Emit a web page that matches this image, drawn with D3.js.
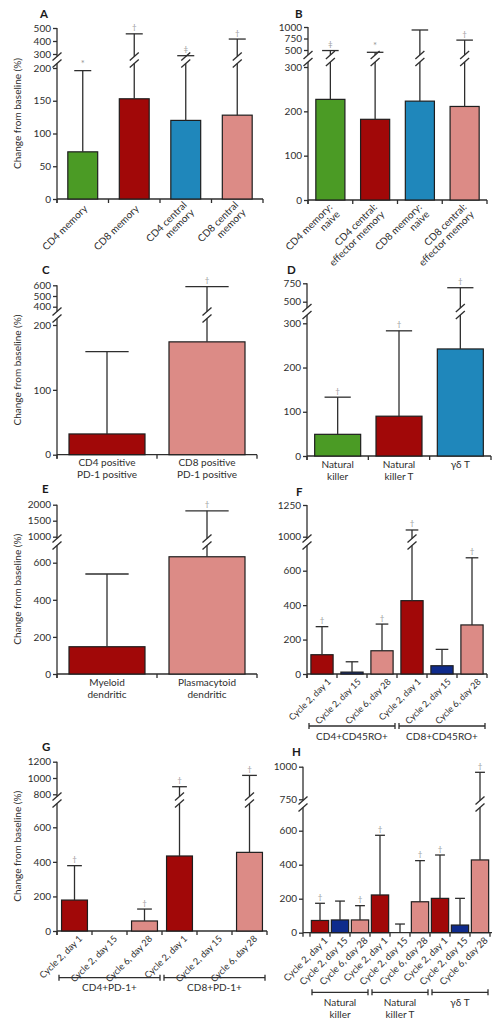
<!DOCTYPE html>
<html><head><meta charset="utf-8">
<script src="https://cdn.jsdelivr.net/npm/d3@7"></script>
<style>
body{margin:0;background:#fff}
svg{display:block}
text{font-family:Lato,"Open Sans",sans-serif}
</style>
</head><body>
<svg id="c" width="499" height="1027"></svg>
<script>
// ---------------- data ----------------
const catsA = ["CD4 memory", "CD8 memory", "CD4 central\nmemory", "CD8 central\nmemory"];
const meanA = [72, 153, 120, 128];
const errA = [196, 455, 287, 415];
const sigA = ["*", "†", "‡", "†"];
const lowTicksA = [0, 50, 100, 150, 200];
const highTicksA = [300, 400, 500];

const catsB = ["CD4 memory:\nnaive", "CD4 central:\neffector memory", "CD8 memory:\nnaive", "CD8 central:\neffector memory"];
const meanB = [227, 182, 223, 211];
const errB = [488, 450, 935, 715];
const sigB = ["‡", "*", "", "†"];
const lowTicksB = [0, 100, 200, 300];
const highTicksB = [500, 750, 1000];

const catsC = ["CD4 positive\nPD-1 positive", "CD8 positive\nPD-1 positive"];
const meanC = [32, 174];
const errC = [159, 587];
const sigC = ["", "†"];
const lowTicksC = [0, 100, 200];
const highTicksC = [400, 500, 600];

const catsD = ["Natural\nkiller", "Natural\nkiller T", "γδ T"];
const meanD = [49, 90, 242];
const errD = [133, 283, 690];
const sigD = ["†", "†", "†"];
const lowTicksD = [0, 100, 200, 300];
const highTicksD = [500, 750];

const catsE = ["Myeloid\ndendritic", "Plasmacytoid\ndendritic"];
const meanE = [147, 632];
const errE = [539, 1810];
const sigE = ["", "†"];
const lowTicksE = [0, 200, 400, 600];
const highTicksE = [1000, 1500, 2000];

const cycleCats = ["Cycle 2, day 1", "Cycle 2, day 15", "Cycle 6, day 28"];

const catsF = [...cycleCats, ...cycleCats];
const groupsF = ["CD4+CD45RO+", "CD8+CD45RO+"];
const meanF = [112, 11, 135, 426, 48, 285];
const errF = [275, 71, 290, 1053, 143, 675];
const sigF = ["†", "", "†", "†", "", "†"];
const lowTicksF = [0, 200, 400, 600];
const highTicksF = [1000, 1250];

const catsG = [...cycleCats, ...cycleCats];
const groupsG = ["CD4+PD-1+", "CD8+PD-1+"];
const meanG = [179, null, 58, 434, null, 455];
const errG = [378, null, 127, 893, null, 1032];
const sigG = ["†", "", "†", "†", "", "†"];
const lowTicksG = [0, 200, 400, 600];
const highTicksG = [800, 1000, 1200];

const catsH = [...cycleCats, ...cycleCats, ...cycleCats];
const groupsH = ["Natural\nkiller", "Natural\nkiller T", "γδ T"];
const meanH = [72, 75, 75, 222, 0, 182, 202, 45, 428];
const errH = [173, 186, 159, 573, 51, 424, 457, 202, 957];
const sigH = ["†", "", "†", "†", "", "†", "†", "", "†"];
const lowTicksH = [0, 200, 400, 600];
const highTicksH = [750, 1000];

// ---------------- styling / layout ----------------
const palette = {green: "#4b9b25", red: "#a10808", blue: "#1f87bb", pink: "#dc8b86", navy: "#0f2b8c"};
const ink = "#2e2e2e";
const cyc = ["red", "navy", "pink"];

const panels = [
  {letter: "A", lx: 40, ly: 18, cats: catsA, mean: meanA, err: errA, sig: sigA, lowTicks: lowTicksA, highTicks: highTicksA,
   colors: ["green", "red", "blue", "pink"], x0: 57, x1: 263, y0: 199, yLowTop: 68, yHiBot: 54, yHiTop: 28, breakY: 60,
   barFrac: 0.58, rot: true, ldx: 3, ldy: 8, lfs: 10, title: true},
  {letter: "B", lx: 295, ly: 18, cats: catsB, mean: meanB, err: errB, sig: sigB, lowTicks: lowTicksB, highTicks: highTicksB,
   colors: ["green", "red", "blue", "pink"], x0: 308, x1: 487, y0: 200, yLowTop: 67, yHiBot: 50, yHiTop: 27, breakY: 58.5,
   barFrac: 0.65, rot: true, ldx: 4, ldy: 9, lfs: 10},
  {letter: "C", lx: 42, ly: 274, cats: catsC, mean: meanC, err: errC, sig: sigC, lowTicks: lowTicksC, highTicks: highTicksC,
   colors: ["red", "pink"], x0: 57, x1: 257, y0: 454.7, yLowTop: 325, yHiBot: 306.7, yHiTop: 285.3, breakY: 315,
   barFrac: 0.76, rot: false, title: true},
  {letter: "D", lx: 287, ly: 273.5, cats: catsD, mean: meanD, err: errD, sig: sigD, lowTicks: lowTicksD, highTicks: highTicksD,
   colors: ["green", "red", "blue"], x0: 307, x1: 491, y0: 456, yLowTop: 323.3, yHiBot: 301.7, yHiTop: 283.3, breakY: 311.5,
   barFrac: 0.75, rot: false},
  {letter: "E", lx: 42, ly: 493, cats: catsE, mean: meanE, err: errE, sig: sigE, lowTicks: lowTicksE, highTicks: highTicksE,
   colors: ["red", "pink"], x0: 57, x1: 257, y0: 674, yLowTop: 562.7, yHiBot: 536.7, yHiTop: 504.7, breakY: 542,
   barFrac: 0.76, rot: false, title: true},
  {letter: "F", lx: 296, ly: 496, cats: catsF, mean: meanF, err: errF, sig: sigF, lowTicks: lowTicksF, highTicks: highTicksF,
   colors: [...cyc, ...cyc], x0: 307, x1: 487, y0: 674, yLowTop: 570.7, yHiBot: 536.7, yHiTop: 505, breakY: 542,
   barFrac: 0.74, rot: true, ldx: 7, ldy: 6, lfs: 9, groups: groupsF, bracketY: 726},
  {letter: "G", lx: 42, ly: 750.5, cats: catsG, mean: meanG, err: errG, sig: sigG, lowTicks: lowTicksG, highTicks: highTicksG,
   colors: [...cyc, ...cyc], x0: 57, x1: 267, y0: 931, yLowTop: 827.3, yHiBot: 794.3, yHiTop: 761.7, breakY: 800,
   barFrac: 0.74, rot: true, ldx: 6, ldy: 6, lfs: 9.2, title: true, groups: groupsG, bracketY: 977.7},
  {letter: "H", lx: 292, ly: 755.5, cats: catsH, mean: meanH, err: errH, sig: sigH, lowTicks: lowTicksH, highTicks: highTicksH,
   colors: [...cyc, ...cyc, ...cyc], x0: 303, x1: 492, bandRange: [310, 490], y0: 932.7, yLowTop: 830.7, yHiBot: 799.3, yHiTop: 766.7, breakY: 804,
   barFrac: 0.865, rot: true, ldx: 6, ldy: 6, lfs: 9.5, groups: groupsH, bracketY: 992.3}
];

const svg = d3.select("#c");
const SW = 1.3;

function slashes(g, cx, cy) {
  [-3.5, 3.5].forEach(o => {
    g.append("line").attr("x1", cx - 4.5).attr("y1", cy + o + 4).attr("x2", cx + 4.5).attr("y2", cy + o - 4)
      .attr("stroke", ink).attr("stroke-width", SW);
  });
}
function vline(g, x, ya, yb) {
  g.append("line").attr("x1", x).attr("x2", x).attr("y1", ya).attr("y2", yb).attr("stroke", ink).attr("stroke-width", SW);
}
function hline(g, xa, xb, y) {
  g.append("line").attr("x1", xa).attr("x2", xb).attr("y1", y).attr("y2", y).attr("stroke", ink).attr("stroke-width", SW);
}

function drawPanel(p) {
  const g = svg.append("g");
  const n = p.cats.length;
  const [r0, r1] = p.bandRange || [p.x0, p.x1];
  const step = (r1 - r0) / n;
  const pad = 1 - p.barFrac;
  const x = d3.scaleBand().domain(d3.range(n)).range([r0, r1]).paddingInner(pad).paddingOuter(pad / 2);
  const bw = x.bandwidth();
  const yLow = d3.scaleLinear().domain([0, d3.max(p.lowTicks)]).range([p.y0, p.yLowTop]);
  const yHigh = d3.scaleLinear().domain([d3.min(p.highTicks), d3.max(p.highTicks)]).range([p.yHiBot, p.yHiTop]);
  const y = v => (yLow(v) >= p.breakY ? yLow(v) : yHigh(v));

  // y axes
  [[yLow, p.lowTicks], [yHigh, p.highTicks]].forEach(([sc, tv]) => {
    const ax = g.append("g").attr("transform", `translate(${p.x0},0)`)
      .call(d3.axisLeft(sc).tickValues(tv).tickSize(4).tickPadding(2).tickFormat(d3.format("d")));
    ax.select(".domain").remove();
    ax.attr("font-family", "Lato, 'Open Sans', sans-serif").attr("font-size", 10).attr("color", ink);
    ax.selectAll("line").attr("stroke-width", SW);
  });
  vline(g, p.x0, p.y0 + 4, p.breakY + 3.5);
  vline(g, p.x0, p.breakY - 3.5, p.yHiTop);
  slashes(g, p.x0, p.breakY);

  // x axis
  hline(g, p.x0, p.x1, p.y0);
  d3.range(n + 1).forEach(k => vline(g, r0 + step * k, p.y0, p.y0 + 4));

  // bars & error bars
  p.cats.forEach((c, i) => {
    const cx = x(i) + bw / 2;
    const m = p.mean[i];
    if (m != null && m > 0) {
      g.append("rect").attr("x", x(i)).attr("y", y(m)).attr("width", bw).attr("height", p.y0 - y(m))
        .attr("fill", palette[p.colors[i]]).attr("stroke", "#1e1e1e").attr("stroke-width", 1.2);
    }
    const e = p.err[i];
    if (e != null) {
      const base = (m != null && m > 0) ? y(m) : p.y0;
      const top = y(e);
      if (top < p.breakY - 3.5 && base > p.breakY + 3.5) {
        vline(g, cx, base, p.breakY + 3.5);
        vline(g, cx, p.breakY - 3.5, top);
        slashes(g, cx, p.breakY);
      } else {
        vline(g, cx, base, top);
      }
      const cw = bw * 0.57;
      hline(g, cx - cw / 2, cx + cw / 2, top);
      if (p.sig[i]) {
        g.append("text").attr("x", cx).attr("y", top - 3.5).attr("text-anchor", "middle")
          .attr("font-size", p.sig[i] === "*" ? 9.5 : 8).attr("fill", "#999").text(p.sig[i]);
      }
    }
    // category labels
    const lines = c.split("\n");
    if (p.rot) {
      const t = g.append("text").attr("transform", `translate(${cx + p.ldx},${p.y0 + p.ldy}) rotate(-45)`)
        .attr("text-anchor", "end").attr("font-size", p.lfs).attr("fill", ink);
      lines.forEach((ln, j) => {
        t.append("tspan").attr("x", 0).attr("y", (j - (lines.length - 1) / 2) * 10.5 + 3.3).text(ln);
      });
    } else {
      const t = g.append("text").attr("text-anchor", "middle").attr("font-size", 10).attr("fill", ink);
      lines.forEach((ln, j) => {
        t.append("tspan").attr("x", cx).attr("y", p.y0 + 11.5 + j * 12).text(ln);
      });
    }
  });

  // group brackets
  if (p.groups) {
    const per = n / p.groups.length;
    p.groups.forEach((gl, gi) => {
      const a = r0 + step * per * gi + 2, b = r0 + step * per * (gi + 1) - 2;
      hline(g, a, b, p.bracketY);
      vline(g, a, p.bracketY - 3, p.bracketY + 3);
      vline(g, b, p.bracketY - 3, p.bracketY + 3);
      const t = g.append("text").attr("text-anchor", "middle").attr("font-size", 10).attr("fill", ink);
      gl.split("\n").forEach((ln, j) => {
        t.append("tspan").attr("x", (a + b) / 2).attr("y", p.bracketY + 13.5 + j * 12.5).text(ln);
      });
    });
  }

  // y title
  if (p.title) {
    g.append("text").attr("transform", `translate(17,${(p.y0 + p.yHiTop) / 2}) rotate(-90)`)
      .attr("text-anchor", "middle").attr("dy", "0.35em").attr("font-size", 10).attr("fill", ink)
      .text("Change from baseline (%)");
  }
  // panel letter
  g.append("text").attr("x", p.lx).attr("y", p.ly).attr("font-size", 11.5).attr("font-weight", "bold")
    .attr("fill", "#1a1a1a").text(p.letter);
}

panels.forEach(drawPanel);
</script>
</body></html>
